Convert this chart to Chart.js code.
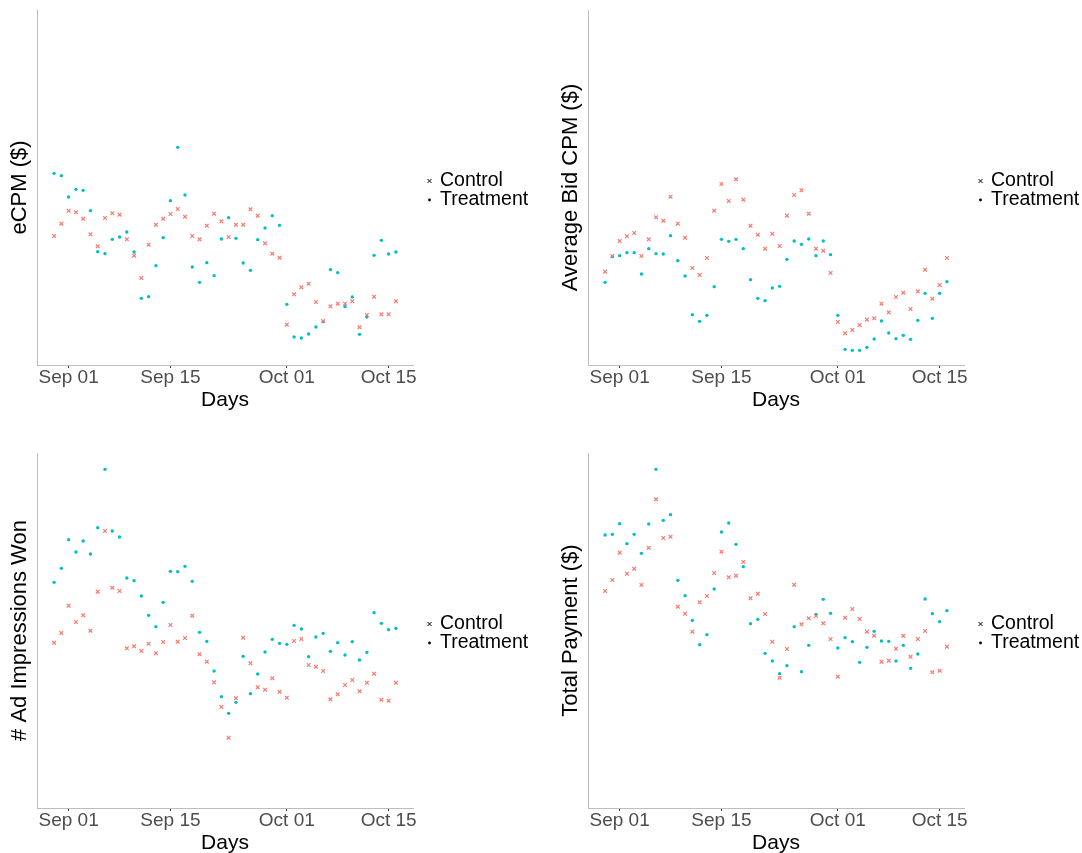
<!DOCTYPE html>
<html>
<head>
<meta charset="utf-8">
<script src="https://cdn.jsdelivr.net/npm/chart.js@4.4.1/dist/chart.umd.min.js"></script>
<style>
  html, body { margin: 0; padding: 0; background: #fff; }
  body { width: 1082px; height: 853px; position: relative; overflow: hidden; }
  .panel { position: absolute; width: 531px; height: 410px; }
  .panel canvas { display: block; }
</style>
</head>
<body>
<div class="panel" style="left:0;top:0"><canvas id="ecpm" width="531" height="410"></canvas></div>
<div class="panel" style="left:551px;top:0"><canvas id="bid" width="531" height="410"></canvas></div>
<div class="panel" style="left:0;top:443px"><canvas id="imp" width="531" height="410"></canvas></div>
<div class="panel" style="left:551px;top:443px"><canvas id="pay" width="531" height="410"></canvas></div>
<script>
// Daily observations, Aug 30 through Oct 16
const days = [
  'Aug 30','Aug 31',
  'Sep 01','Sep 02','Sep 03','Sep 04','Sep 05','Sep 06','Sep 07','Sep 08','Sep 09','Sep 10',
  'Sep 11','Sep 12','Sep 13','Sep 14','Sep 15','Sep 16','Sep 17','Sep 18','Sep 19','Sep 20',
  'Sep 21','Sep 22','Sep 23','Sep 24','Sep 25','Sep 26','Sep 27','Sep 28','Sep 29','Sep 30',
  'Oct 01','Oct 02','Oct 03','Oct 04','Oct 05','Oct 06','Oct 07','Oct 08','Oct 09','Oct 10',
  'Oct 11','Oct 12','Oct 13','Oct 14','Oct 15','Oct 16'
];
const tickLabels = ['Sep 01', 'Sep 15', 'Oct 01', 'Oct 15'];

// eCPM ($)
const ecpmControl = [0.387,0.424,0.463,0.458,0.439,0.392,0.356,0.441,0.455,0.451,0.377,0.328,0.261,0.361,0.421,0.439,0.453,0.468,0.445,0.387,0.377,0.418,0.454,0.431,0.384,0.421,0.421,0.467,0.448,0.365,0.334,0.322,0.121,0.212,0.233,0.244,0.189,0.132,0.176,0.184,0.184,0.191,0.113,0.150,0.205,0.152,0.152,0.191];
const ecpmTreatment = [0.575,0.568,0.504,0.527,0.524,0.463,0.340,0.334,0.377,0.384,0.399,0.339,0.200,0.205,0.298,0.382,0.493,0.653,0.510,0.294,0.248,0.307,0.268,0.378,0.442,0.380,0.306,0.284,0.376,0.411,0.448,0.419,0.182,0.084,0.081,0.093,0.114,0.130,0.286,0.277,0.175,0.204,0.092,0.144,0.329,0.374,0.333,0.339];

// Average bid CPM ($)
const bidControl = [0.280,0.327,0.372,0.386,0.396,0.327,0.377,0.443,0.433,0.505,0.424,0.382,0.291,0.270,0.321,0.463,0.543,0.492,0.557,0.496,0.418,0.391,0.349,0.394,0.357,0.448,0.510,0.524,0.454,0.349,0.343,0.276,0.129,0.095,0.105,0.120,0.136,0.140,0.184,0.158,0.204,0.217,0.168,0.221,0.286,0.199,0.240,0.321];
const bidTreatment = [0.248,0.325,0.328,0.337,0.337,0.273,0.349,0.334,0.333,0.388,0.313,0.267,0.151,0.131,0.149,0.235,0.377,0.371,0.377,0.349,0.256,0.200,0.193,0.231,0.236,0.317,0.372,0.362,0.378,0.328,0.372,0.331,0.149,0.047,0.044,0.044,0.053,0.078,0.132,0.096,0.079,0.089,0.077,0.134,0.215,0.140,0.215,0.250];

// Ad impressions won
const impControl = [496,525,607,558,578,532,649,831,661,651,479,485,471,493,464,498,549,499,510,577,461,439,377,303,211,329,511,434,362,355,389,349,331,501,507,429,424,411,326,341,369,384,350,376,403,325,322,376];
const impTreatment = [677,719,805,768,801,762,841,1016,831,813,690,682,636,578,544,617,710,709,725,680,527,500,411,334,284,317,455,343,402,468,506,494,491,548,537,454,513,524,470,496,459,499,444,467,586,554,535,539];

// Total payment ($)
const payControl = [651,684,766,703,718,669,781,926,810,814,604,583,529,617,636,705,769,692,697,738,629,643,582,499,391,477,670,551,569,576,554,507,394,571,597,567,529,517,439,442,478,517,454,507,531,407,412,484];
const payTreatment = [819,821,853,793,821,764,852,1016,863,880,683,637,563,490,520,657,828,855,791,724,553,566,464,441,403,427,544,409,488,581,626,584,480,511,499,437,482,530,501,500,441,488,419,462,627,583,559,592];

const FONT = "'Liberation Sans', Arial, Helvetica, sans-serif";
const RED = '#F8766D';
const CYAN = '#00BFC4';
const tickIdx = tickLabels.map(l => days.indexOf(l));

function toPoints(vals) {
  return vals.map((v, i) => ({ x: i, y: v }));
}

// Key to the right of each panel: black glyphs with the series names
const sideLegend = {
  id: 'sideLegend',
  afterDraw(chart) {
    const { ctx, chartArea } = chart;
    const mid = (chartArea.top + chartArea.bottom) / 2;
    const mx = chartArea.right + 16.5;
    const tx = chartArea.right + 27;
    const rows = [mid - 6.5, mid + 12.5];
    ctx.save();
    chart.data.datasets.forEach((ds, i) => {
      const y = rows[i];
      ctx.strokeStyle = '#000';
      ctx.fillStyle = '#000';
      if (ds.pointStyle === 'crossRot') {
        ctx.lineWidth = 1;
        ctx.beginPath();
        ctx.moveTo(mx - 2, y - 2); ctx.lineTo(mx + 2, y + 2);
        ctx.moveTo(mx - 2, y + 2); ctx.lineTo(mx + 2, y - 2);
        ctx.stroke();
      } else {
        ctx.beginPath();
        ctx.arc(mx, y, 1.4, 0, Math.PI * 2);
        ctx.fill();
      }
      ctx.font = '19.5px ' + FONT;
      ctx.textBaseline = 'middle';
      ctx.textAlign = 'left';
      ctx.fillText(ds.label, tx, y);
    });
    ctx.restore();
  }
};

function drawPanel(id, yTitle, control, treatment, yMax) {
  new Chart(document.getElementById(id), {
    type: 'scatter',
    data: {
      datasets: [
        { label: 'Control', data: toPoints(control), pointStyle: 'crossRot',
          pointRadius: 2.6, pointBorderWidth: 1.1, borderColor: RED, backgroundColor: RED },
        { label: 'Treatment', data: toPoints(treatment), pointStyle: 'circle',
          pointRadius: 1.7, pointBorderWidth: 0, borderColor: CYAN, backgroundColor: CYAN }
      ]
    },
    options: {
      responsive: false,
      animation: false,
      devicePixelRatio: 1,
      layout: { padding: { top: 10, right: 118, bottom: 0, left: 0 } },
      plugins: { legend: { display: false }, tooltip: { enabled: false } },
      scales: {
        x: {
          type: 'linear',
          min: -2.35,
          max: 49.35,
          afterFit(s) { s.height = 45; },
          afterBuildTicks(s) { s.ticks = tickIdx.map(v => ({ value: v })); },
          ticks: {
            autoSkip: false, maxRotation: 0, minRotation: 0, padding: 0,
            color: '#4d4d4d',
            font: { family: FONT, size: 19, lineHeight: 1 },
            callback: (v, i) => tickLabels[i]
          },
          grid: { drawOnChartArea: false, drawTicks: true, tickLength: 3, tickColor: '#333', tickWidth: 1 },
          border: { display: true, color: '#bdbdbd', width: 1 },
          title: { display: true, text: 'Days', color: '#000',
                   font: { family: FONT, size: 21, lineHeight: 1 }, padding: { top: 0, bottom: -1 } }
        },
        y: {
          min: 0,
          max: yMax,
          afterFit(s) { s.width = 37; },
          ticks: { display: false },
          grid: { display: false },
          border: { display: true, color: '#bdbdbd', width: 1 },
          title: { display: true, text: yTitle, color: '#000',
                   font: { family: FONT, size: 22, lineHeight: 1.2 }, padding: { top: 7, bottom: 0 } }
        }
      }
    },
    plugins: [sideLegend]
  });
}

drawPanel('ecpm', 'eCPM ($)', ecpmControl, ecpmTreatment, 1.065);
drawPanel('bid', 'Average Bid CPM ($)', bidControl, bidTreatment, 1.065);
drawPanel('imp', '# Ad Impressions Won', impControl, impTreatment, 1065);
drawPanel('pay', 'Total Payment ($)', payControl, payTreatment, 1065);
</script>
</body>
</html>
